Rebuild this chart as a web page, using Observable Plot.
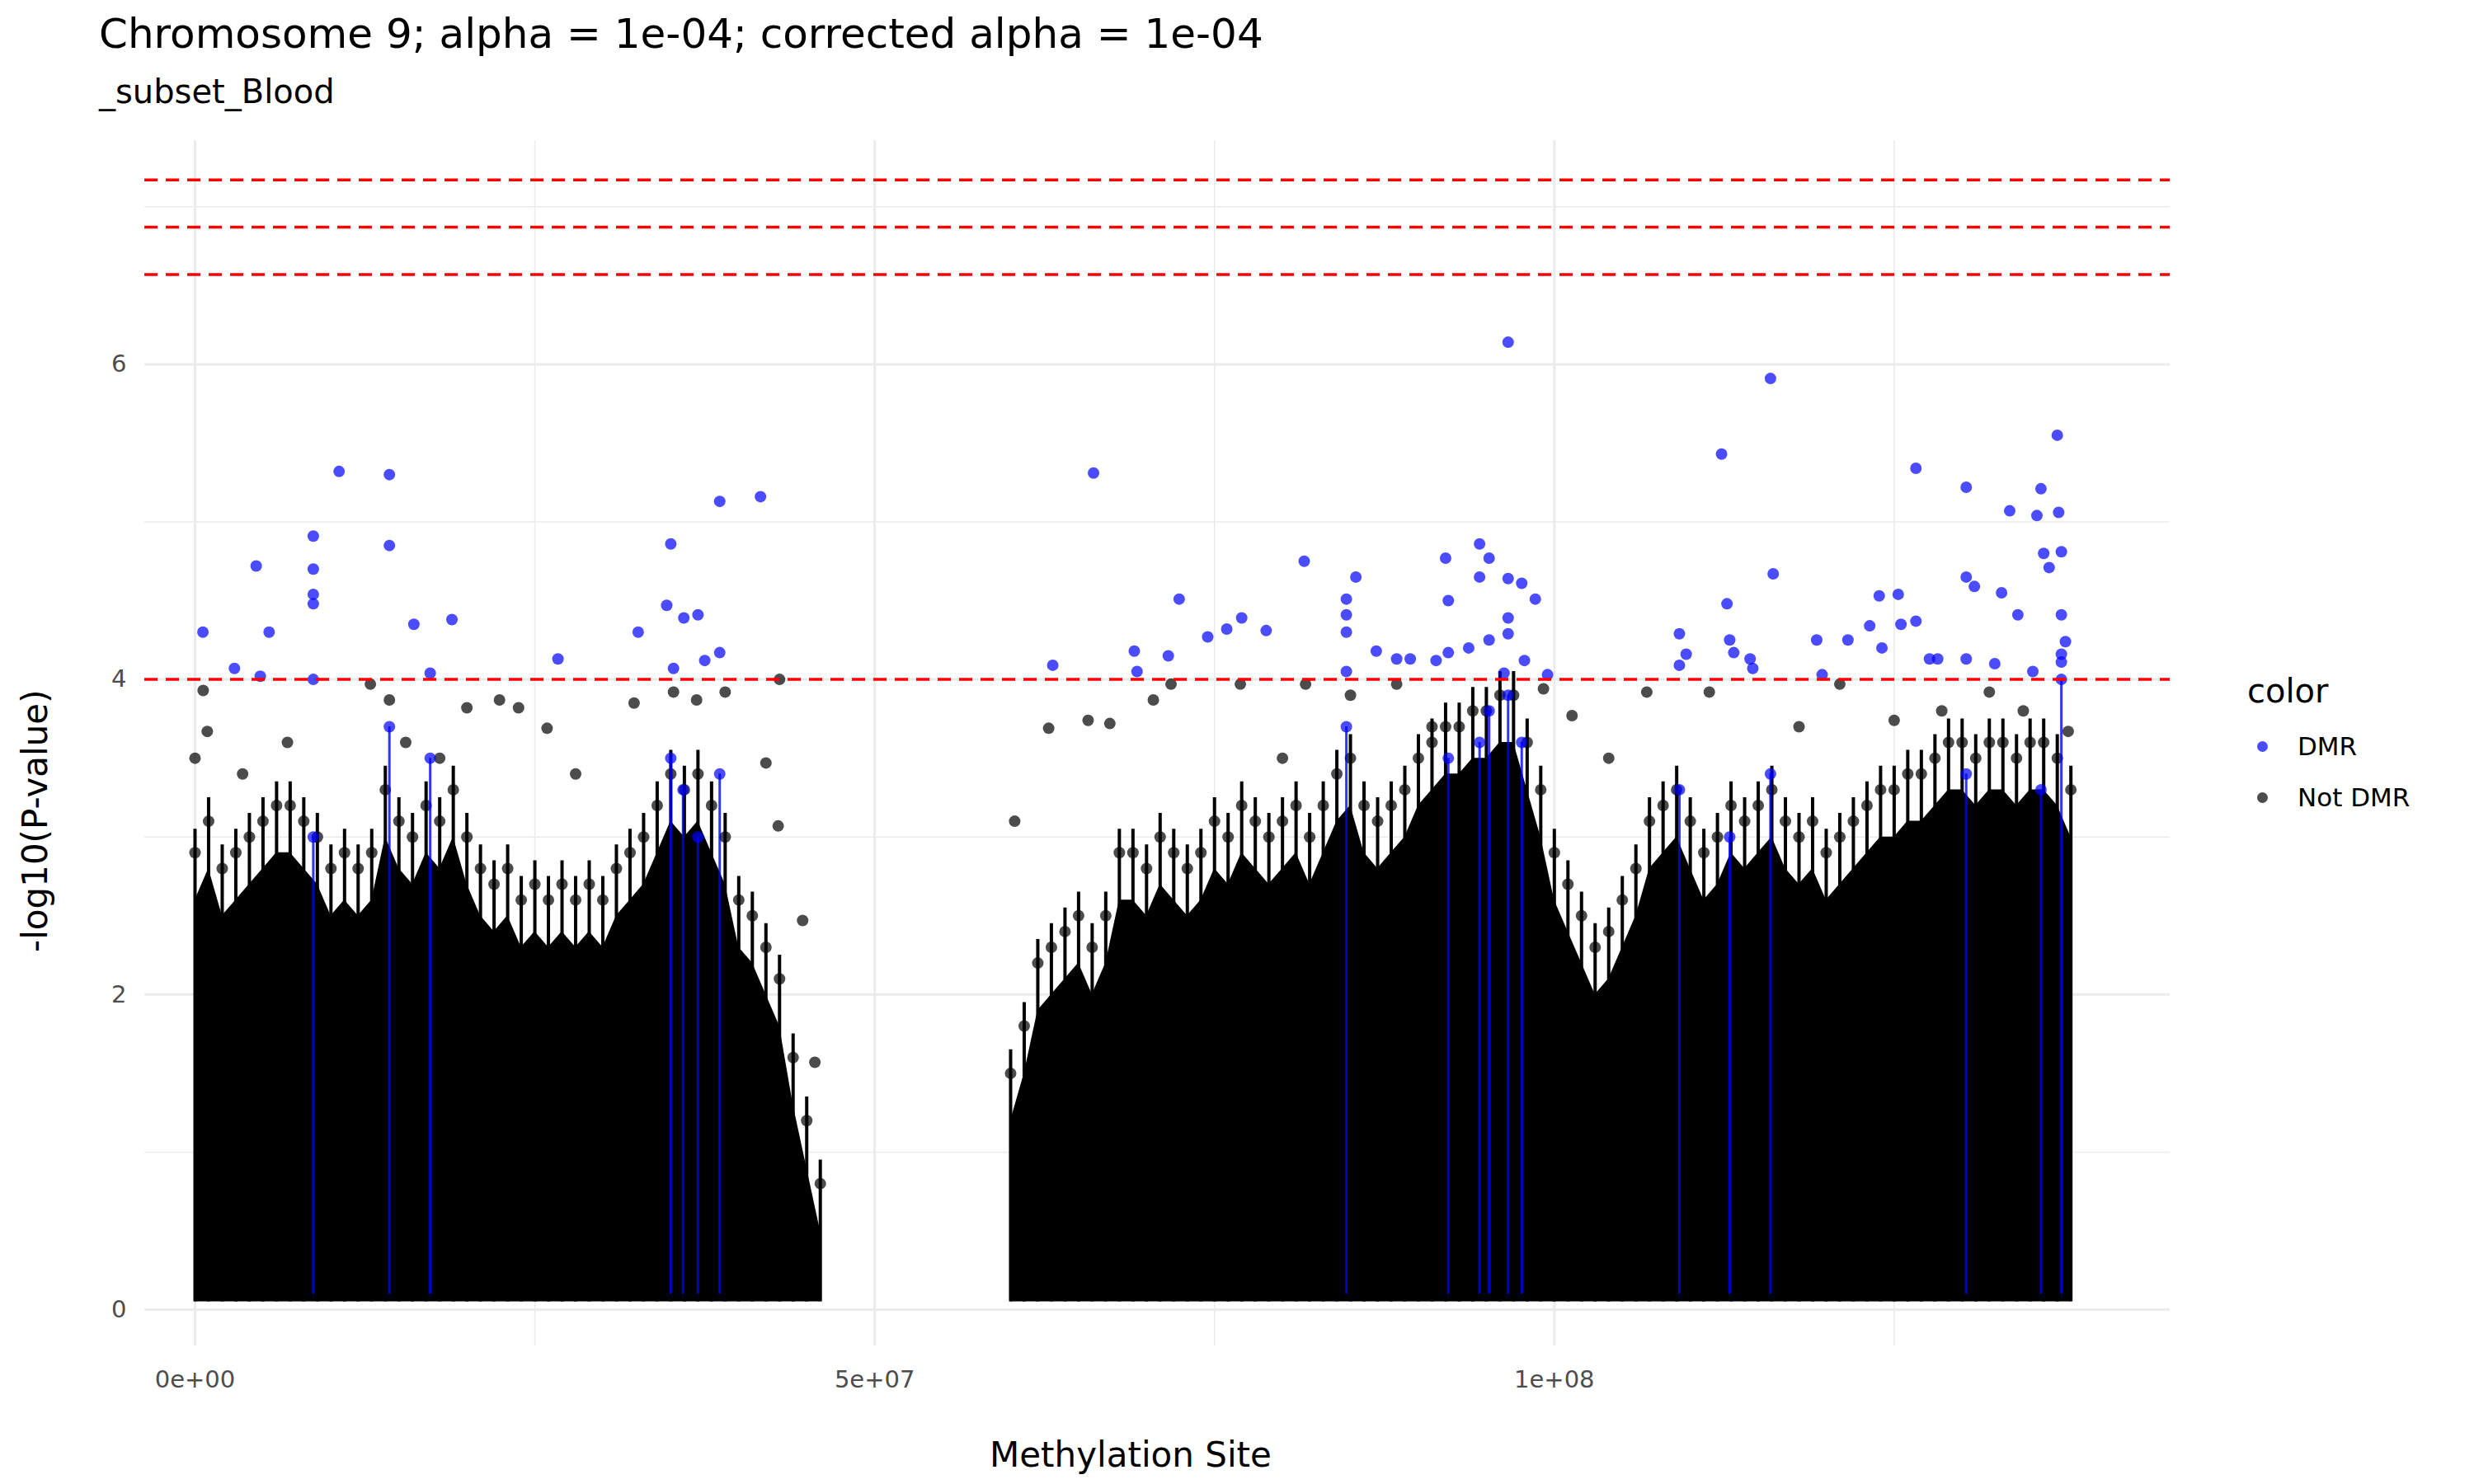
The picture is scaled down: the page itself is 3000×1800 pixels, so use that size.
<!DOCTYPE html>
<html>
<head>
<meta charset="utf-8">
<script src="https://cdn.jsdelivr.net/npm/d3@7"></script>
<script src="https://cdn.jsdelivr.net/npm/@observablehq/plot@0.6"></script>
<style>
  body { margin: 0; background: #fff; font-family: "DejaVu Sans", sans-serif; }
  #wrap { width: 3000px; height: 1800px; position: relative; }
  #title { position: absolute; left: 120px; top: 12px; font-size: 50px; color: #000; }
  #subtitle { position: absolute; left: 120px; top: 88px; font-size: 40px; color: #000; }
  #chart { position: absolute; left: 0; top: 160px; }
  #xlabel { position: absolute; left: 1200px; top: 1740px; font-size: 42px; }
  #ylabel { position: absolute; left: 10px; top: 0; font-size: 42px; transform-origin: left top;
            transform: translate(8px, 1155px) rotate(-90deg); white-space: nowrap; }
  #legend { position: absolute; left: 2725px; top: 815px; font-size: 40px; }
  .item { display: flex; align-items: center; font-size: 31px; margin-top: 26px; margin-left: 12px; }
  .sw { width: 13px; height: 13px; border-radius: 50%; margin-right: 36px; opacity: 0.7; }
</style>
</head>
<body>
<div id="wrap">
  <div id="title">Chromosome 9; alpha = 1e-04; corrected alpha = 1e-04</div>
  <div id="subtitle">_subset_Blood</div>
  <div id="chart"></div>
  <div id="xlabel">Methylation Site</div>
  <div id="ylabel">-log10(P-value)</div>
  <div id="legend">color
    <div class="item"><div class="sw" style="background:#0000ff"></div>DMR</div>
    <div class="item"><div class="sw" style="background:#000"></div>Not DMR</div>
  </div>
</div>
<script>
// thresholds (-log10 p)
const thresholds = [4, 6.57, 6.87, 7.17];

// solid body of the cloud, position in Mb -> height
const envLeftPos = d3.range(0, 47);
const envLeft = [2.6,2.8,2.5,2.6,2.7,2.8,2.9,2.9,2.8,2.7,2.5,2.6,2.5,2.6,3.0,2.8,2.7,2.9,2.8,3.0,2.7,2.5,2.4,2.5,2.3,2.4,2.3,2.4,2.3,2.4,2.3,2.5,2.6,2.7,2.9,3.1,3.0,3.1,2.9,2.7,2.3,2.2,2.0,1.8,1.3,0.9,0.5];
const envRightPos = d3.range(60, 139);
const envRight = [1.2,1.5,1.9,2.0,2.1,2.2,2.0,2.2,2.6,2.6,2.5,2.7,2.6,2.5,2.6,2.8,2.7,2.9,2.8,2.7,2.8,2.9,2.7,2.9,3.1,3.2,2.9,2.8,2.9,3.0,3.2,3.3,3.4,3.4,3.5,3.5,3.6,3.6,3.3,3.0,2.6,2.4,2.2,2.0,2.1,2.3,2.5,2.8,2.9,3.0,2.8,2.6,2.7,2.9,2.8,2.9,3.0,2.8,2.7,2.8,2.6,2.7,2.8,2.9,3.0,3.0,3.1,3.1,3.2,3.3,3.3,3.2,3.3,3.3,3.2,3.3,3.3,3.2,3.0];

// blue DMR streaks inside the cloud (Mb, height)
const streakPos = [8.7,14.3,17.3,35.0,35.9,37.0,38.6,84.7,92.2,94.5,95.2,96.6,97.6,109.2,112.9,115.9,130.3,135.8,137.3];
const streakTop = [3.0,3.7,3.5,3.5,3.3,3.0,3.4,3.7,3.5,3.6,3.8,3.9,3.6,3.3,3.0,3.4,3.4,3.3,4.0];

// DMR points above the cloud (Mb, -log10 p)
const dmrPos = [0.58,2.9,4.5,4.8,5.45,8.7,8.7,8.7,8.7,8.7,10.6,14.3,14.3,16.1,17.3,18.9,26.7,32.6,34.7,35.0,35.2,35.96,37.0,37.5,38.6,38.6,41.6,
  63.1,66.1,69.1,69.3,71.6,72.4,74.5,75.9,77.0,78.8,81.6,84.7,84.7,84.7,84.7,85.4,86.9,88.4,89.4,91.3,92.0,92.2,92.2,93.7,94.5,94.5,95.2,95.2,96.3,96.6,96.6,96.6,96.6,97.6,97.8,98.6,99.5,
  109.2,109.2,109.7,112.3,112.7,112.9,113.2,114.4,114.6,115.9,116.1,119.3,119.7,121.6,123.2,123.9,124.1,125.3,125.5,126.6,126.6,127.6,128.2,130.3,130.3,130.3,130.9,132.4,132.9,133.5,134.1,135.2,135.5,135.8,136.0,136.4,137.0,137.1,137.3,137.3,137.3,137.6,137.3];
const dmrVal = [4.30,4.07,4.72,4.02,4.30,4.91,4.70,4.54,4.48,4.00,5.32,5.30,4.85,4.35,4.04,4.38,4.13,4.30,4.47,4.86,4.07,4.39,4.41,4.12,5.13,4.17,5.16,
  4.09,5.31,4.18,4.05,4.15,4.51,4.27,4.32,4.39,4.31,4.75,4.51,4.41,4.30,4.05,4.65,4.18,4.13,4.13,4.12,4.77,4.50,4.17,4.20,4.86,4.65,4.77,4.25,4.04,6.14,4.64,4.39,4.29,4.61,4.12,4.51,4.03,
  4.29,4.09,4.16,5.43,4.48,4.25,4.17,4.13,4.07,5.91,4.67,4.25,4.03,4.25,4.34,4.53,4.20,4.54,4.35,5.34,4.37,4.13,4.13,5.22,4.65,4.13,4.59,4.10,4.55,5.07,4.41,4.05,5.04,5.21,4.80,4.71,5.55,5.06,4.81,4.41,4.16,4.24,4.11];

// non-DMR points above the cloud
const otherPos = [0.0,0.6,0.9,3.5,6.8,12.9,14.3,15.5,18.0,20.0,22.4,23.8,25.9,28.0,32.3,35.2,36.9,39.0,42.0,43.0,42.9,44.7,45.6,
  60.3,62.8,65.7,67.3,70.5,71.8,76.9,80.0,81.7,85.0,88.4,91.0,99.2,101.3,104.0,106.8,111.4,118.0,121.0,125.0,128.5,132.0,134.5,137.8];
const otherVal = [3.5,3.93,3.67,3.4,3.6,3.97,3.87,3.6,3.5,3.82,3.87,3.82,3.69,3.4,3.85,3.92,3.87,3.92,3.47,4.0,3.07,2.47,1.57,
  3.1,3.69,3.74,3.72,3.87,3.97,3.97,3.5,3.97,3.9,3.97,3.7,3.94,3.77,3.5,3.92,3.92,3.7,3.97,3.74,3.8,3.92,3.8,3.67];

const MB = 1e6;
const left = envLeftPos.map((p, i) => ({x: p * MB, y: envLeft[i]}));
const right = envRightPos.map((p, i) => ({x: p * MB, y: envRight[i]}));
const streaks = streakPos.map((p, i) => ({x: p * MB, y: streakTop[i]}));
const dmr = dmrPos.map((p, i) => ({x: p * MB, y: dmrVal[i]}));
const other = otherPos.map((p, i) => ({x: p * MB, y: otherVal[i]}));
const cloudTop = left.concat(right);

const fmt = d => d === 0 ? "0e+00" : d === 5e7 ? "5e+07" : "1e+08";

const plot = Plot.plot({
  width: 2680,
  height: 1620,
  marginLeft: 175,
  marginRight: 49,
  marginTop: 10,
  marginBottom: 148,
  style: {fontFamily: "DejaVu Sans", fontSize: "29px", color: "#4d4d4d", background: "#fff"},
  x: {domain: [-3.7e6, 145.3e6], ticks: [0, 5e7, 1e8], tickFormat: fmt, tickSize: 0, tickPadding: 30, label: null},
  y: {domain: [-0.23, 7.42], ticks: [0, 2, 4, 6], tickSize: 0, tickPadding: 22, label: null},
  marks: [
    Plot.ruleY([1, 3, 5, 7], {stroke: "#ebebeb", strokeWidth: 1.5}),
    Plot.ruleX([2.5e7, 7.5e7, 1.25e8], {stroke: "#ebebeb", strokeWidth: 1.5}),
    Plot.ruleY([0, 2, 4, 6], {stroke: "#ebebeb", strokeWidth: 3}),
    Plot.ruleX([0, 5e7, 1e8], {stroke: "#ebebeb", strokeWidth: 3}),
    Plot.areaY(left, {x: "x", y1: 0.05, y2: "y", fill: "#000", curve: "linear"}),
    Plot.areaY(right, {x: "x", y1: 0.05, y2: "y", fill: "#000", curve: "linear"}),
    Plot.ruleX(cloudTop, {x: "x", y1: 0.05, y2: d => d.y + 0.45, stroke: "#000", strokeWidth: 4}),
    Plot.dot(cloudTop, {x: "x", y: d => d.y + 0.3, r: 7, fill: "#000", fillOpacity: 0.7}),
    Plot.ruleX(streaks, {x: "x", y1: 0.1, y2: "y", stroke: "#0000ff", strokeWidth: 3, strokeOpacity: 0.8}),
    Plot.dot(other, {x: "x", y: "y", r: 7, fill: "#000", fillOpacity: 0.7}),
    Plot.dot(streaks, {x: "x", y: "y", r: 7, fill: "#0000ff", fillOpacity: 0.7}),
    Plot.dot(dmr, {x: "x", y: "y", r: 7, fill: "#0000ff", fillOpacity: 0.7}),
    Plot.ruleY(thresholds, {stroke: "#ff0000", strokeWidth: 3.5, strokeDasharray: "16,10"})
  ]
});
document.getElementById("chart").append(plot);
</script>
</body>
</html>
